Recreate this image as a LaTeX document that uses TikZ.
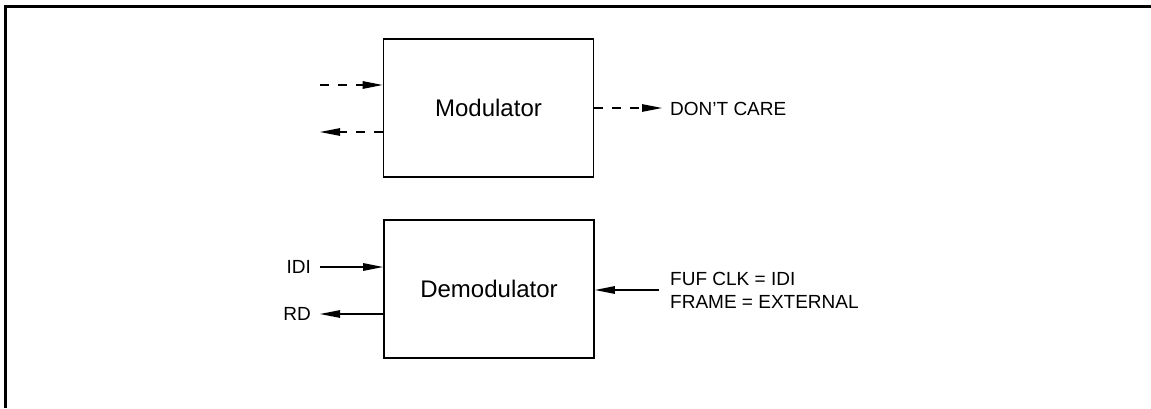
\documentclass[tikz,border=0pt]{standalone}
\usepackage{fontspec}
\setmainfont{Liberation Sans}
\usetikzlibrary{arrows.meta}
\begin{document}
\begin{tikzpicture}[x=1pt,y=1pt,
  blockbox/.style={draw,line width=1.8pt,minimum width=210pt,minimum height=138pt,inner sep=0pt,font=\fontsize{24}{28}\selectfont},
  lbl/.style={inner sep=0pt,font=\fontsize{19}{23}\selectfont},
  sig/.style={line width=1.3pt,-{Triangle[length=20pt,width=7.5pt]}},
  dsig/.style={sig,dash pattern=on 9pt off 9pt}]
\useasboundingbox (0,0) rectangle (1151,408);
% frame (top and left only)
\draw[line width=3pt] (5,0) -- (5,401) -- (1151,401);
\node[blockbox] (mod) at (488.5,300) {Modulator};
\node[blockbox] (demod) at (489,119) {Demodulator};
% modulator connectors
\coordinate (modin) at (320,323);
\coordinate (modout) at (320,276);
\coordinate (modr) at (662,300);
\draw[dsig] (modin) -- (modin -| mod.west);
\draw[dsig] (modout -| mod.west) -- (modout);
\draw[dsig] (modr -| mod.east) -- (modr);
\node[lbl,anchor=west] (dc) at (670,299) {DON'T CARE};
% demodulator connectors
\node[lbl,anchor=east] (idi) at (311,141) {IDI};
\node[lbl,anchor=east] (rd) at (311,94) {RD};
\coordinate (idis) at (320,141);
\coordinate (rde) at (320,94);
\draw[sig] (idis) -- (idis -| demod.west);
\draw[sig] (rde -| demod.west) -- (rde);
\node[lbl,anchor=west,align=left] (fuf) at (670,117.5) {FUF CLK = IDI\\FRAME = EXTERNAL};
\coordinate (fufs) at (659,118);
\draw[sig] (fufs) -- (fufs -| demod.east);
\end{tikzpicture}
\end{document}
